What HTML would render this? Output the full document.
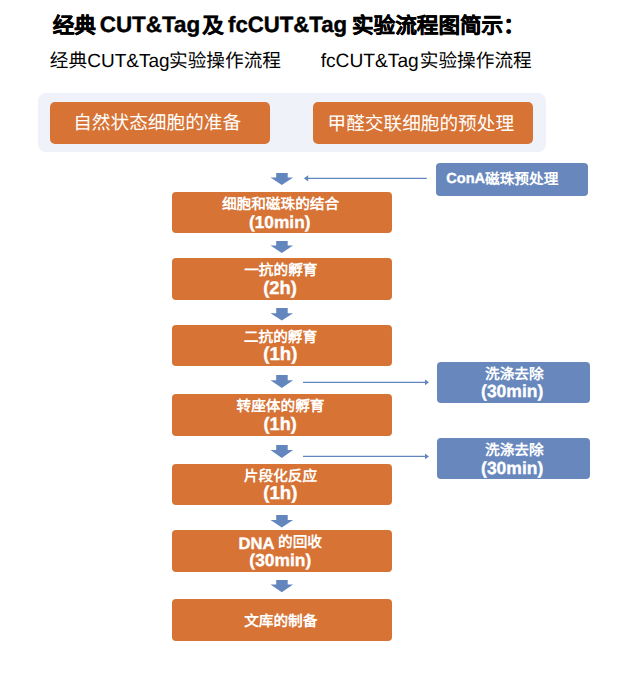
<!DOCTYPE html>
<html lang="zh-CN"><head><meta charset="utf-8">
<style>
html,body{margin:0;padding:0;background:#fff;}
body{width:634px;height:680px;position:relative;overflow:hidden;font-family:"Liberation Sans",sans-serif;}
.b{position:absolute;border-radius:4px;}
.o{background:#d67335;}
.u{background:#6787bd;}
.t{position:absolute;white-space:nowrap;line-height:1;color:#000;text-rendering:geometricPrecision;}
svg{position:absolute;left:0;top:0;}
</style></head><body>
<div class="b" style="left:38px;top:92.7px;width:508px;height:59.6px;background:#eff2f8;border-radius:8px"></div>
<div class="b o" style="left:50px;top:102px;width:220px;height:41.5px;border-radius:5px"></div>
<div class="b o" style="left:313px;top:102px;width:220px;height:41.5px;border-radius:5px"></div>
<div class="b o" style="left:172px;top:191.5px;width:220px;height:41.8px"></div>
<div class="b o" style="left:172px;top:257.9px;width:220px;height:41.8px"></div>
<div class="b o" style="left:172px;top:324.5px;width:220px;height:41.8px"></div>
<div class="b o" style="left:172px;top:394.1px;width:220px;height:41.8px"></div>
<div class="b o" style="left:172px;top:463.5px;width:220px;height:41.8px"></div>
<div class="b o" style="left:172px;top:530.0px;width:220px;height:41.8px"></div>
<div class="b o" style="left:172px;top:599.2px;width:220px;height:41.8px"></div>
<div class="b u" style="left:436px;top:163px;width:152px;height:33px"></div>
<div class="b u" style="left:437.3px;top:361.5px;width:153.1px;height:41.5px"></div>
<div class="b u" style="left:437.3px;top:437.9px;width:153.1px;height:41.5px"></div>
<svg width="634" height="680" viewBox="0 0 634 680">
<g fill="#6486be">
<path d="M276.2 173 H287.7 V177.4 H293.1 L281.8 184.9 L270.5 177.4 H276.2 Z"/>
<path d="M276.2 241 H287.7 V245.5 H293.1 L281.8 253.1 L270.5 245.5 H276.2 Z"/>
<path d="M276.2 308 H287.7 V313.2 H293.1 L281.8 320.5 L270.5 313.2 H276.2 Z"/>
<path d="M276.2 375.1 H287.7 V380.2 H293.1 L281.8 387.9 L270.5 380.2 H276.2 Z"/>
<path d="M276.2 445.1 H287.7 V450.0 H293.1 L281.8 457.9 L270.5 450.0 H276.2 Z"/>
<path d="M276.2 515 H287.7 V520.1 H293.1 L281.8 527.6 L270.5 520.1 H276.2 Z"/>
<path d="M276.2 579.9 H287.7 V584.6 H293.1 L281.8 592.2 L270.5 584.6 H276.2 Z"/>
<path d="M303.9 178.3 L308.2 175.2 L308.2 181.4 Z"/>
<path d="M429 382.3 L425 379.4 L425 385.2 Z"/>
<path d="M429 456.4 L425 453.5 L425 459.3 Z"/>
</g>
<g stroke="#6486be" stroke-width="1.3" fill="none">
<line x1="307" y1="178.3" x2="426.8" y2="178.3"/>
<line x1="303" y1="382.3" x2="426" y2="382.3"/>
<line x1="303" y1="456.4" x2="426" y2="456.4"/>
</g>
</svg>
<span class="t" style="left:52.75px;top:14.7px;font-size:21.6px;font-weight:bold;-webkit-text-stroke:0.4px #000;">经典</span>
<span class="t" style="left:99.75px;top:14.3px;font-size:22.41px;font-weight:bold;-webkit-text-stroke:0.4px #000;">CUT&amp;Tag</span>
<span class="t" style="left:202.2px;top:14.7px;font-size:21.6px;font-weight:bold;-webkit-text-stroke:0.4px #000;">及</span>
<span class="t" style="left:228.0px;top:14.3px;font-size:22.2px;font-weight:bold;-webkit-text-stroke:0.4px #000;">fcCUT&amp;Tag</span>
<span class="t" style="left:352.0px;top:14.7px;font-size:21.6px;font-weight:bold;-webkit-text-stroke:0.4px #000;">实验流程图简示：</span>
<span class="t" style="left:49.8px;top:51.5px;font-size:18.67px;">经典</span>
<span class="t" style="left:87.3px;top:51.5px;font-size:19.01px;">CUT&amp;Tag</span>
<span class="t" style="left:169.0px;top:51.5px;font-size:18.67px;">实验操作流程</span>
<span class="t" style="left:320.7px;top:52.3px;font-size:19.2px;">fcCUT&amp;Tag</span>
<span class="t" style="left:419.75px;top:51.5px;font-size:18.67px;">实验操作流程</span>
<span class="t" style="left:73.2px;top:114.4px;font-size:18.67px;color:#fff;">自然状态细胞的准备</span>
<span class="t" style="left:327.5px;top:114.9px;font-size:18.67px;color:#fff;">甲醛交联细胞的预处理</span>
<span class="t" style="left:446.25px;top:172.0px;font-size:14.59px;font-weight:bold;-webkit-text-stroke:0.35px #fff;color:#fff;">ConA</span>
<span class="t" style="left:485.0px;top:172.6px;font-size:14.67px;font-weight:bold;color:#fff;">磁珠预处理</span>
<span class="t" style="left:221.9px;top:197.88px;font-size:14.67px;font-weight:bold;color:#fff;">细胞和磁珠的结合</span>
<span class="t" style="left:249.0px;top:213.5px;font-size:17.3px;font-weight:bold;-webkit-text-stroke:0.35px #fff;color:#fff;">(10min)</span>
<span class="t" style="left:244.2px;top:264.28px;font-size:14.67px;font-weight:bold;color:#fff;">一抗的孵育</span>
<span class="t" style="left:263.15px;top:278.93px;font-size:18.44px;font-weight:bold;-webkit-text-stroke:0.35px #fff;color:#fff;">(2h)</span>
<span class="t" style="left:243.85px;top:330.88px;font-size:14.67px;font-weight:bold;color:#fff;">二抗的孵育</span>
<span class="t" style="left:263.3px;top:345.38px;font-size:18.62px;font-weight:bold;-webkit-text-stroke:0.35px #fff;color:#fff;">(1h)</span>
<span class="t" style="left:236.55px;top:400.48px;font-size:14.67px;font-weight:bold;color:#fff;">转座体的孵育</span>
<span class="t" style="left:263.55px;top:415.42px;font-size:18.1px;font-weight:bold;-webkit-text-stroke:0.35px #fff;color:#fff;">(1h)</span>
<span class="t" style="left:243.85px;top:469.88px;font-size:14.67px;font-weight:bold;color:#fff;">片段化反应</span>
<span class="t" style="left:263.3px;top:484.38px;font-size:18.62px;font-weight:bold;-webkit-text-stroke:0.35px #fff;color:#fff;">(1h)</span>
<span class="t" style="left:238.6px;top:535.65px;font-size:16.6px;font-weight:bold;-webkit-text-stroke:0.35px #fff;color:#fff;">DNA</span>
<span class="t" style="left:278.05px;top:536.38px;font-size:14.67px;font-weight:bold;color:#fff;">的回收</span>
<span class="t" style="left:249.35px;top:551.9px;font-size:17.41px;font-weight:bold;-webkit-text-stroke:0.35px #fff;color:#fff;">(30min)</span>
<span class="t" style="left:244.15px;top:615.4px;font-size:14.67px;font-weight:bold;color:#fff;">文库的制备</span>
<span class="t" style="left:485.0px;top:367.88px;font-size:14.67px;font-weight:bold;color:#fff;">洗涤去除</span>
<span class="t" style="left:481.05px;top:383.3px;font-size:17.53px;font-weight:bold;-webkit-text-stroke:0.35px #fff;color:#fff;">(30min)</span>
<span class="t" style="left:485.0px;top:444.28px;font-size:14.67px;font-weight:bold;color:#fff;">洗涤去除</span>
<span class="t" style="left:481.05px;top:459.7px;font-size:17.53px;font-weight:bold;-webkit-text-stroke:0.35px #fff;color:#fff;">(30min)</span>
</body></html>
